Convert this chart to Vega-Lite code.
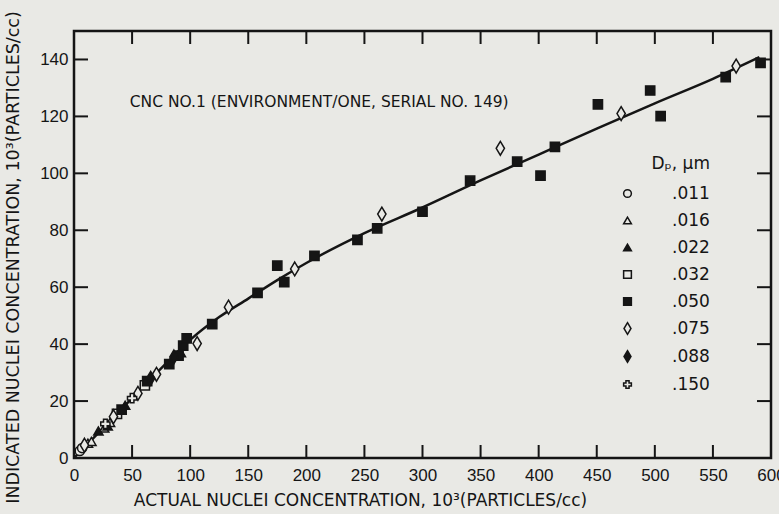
{
  "$schema": "https://vega.github.io/schema/vega-lite/v6.json",
  "width": 697,
  "height": 427,
  "autosize": {"type": "none"},
  "padding": {"left": 74, "top": 31, "right": 8, "bottom": 56},
  "background": "#e9e9e5",
  "config": {
    "view": {"stroke": "#151515", "strokeWidth": 2.5},
    "font": "DejaVu Sans",
    "axis": {"domain": false, "grid": false, "ticks": false, "labelColor": "#151515", "titleColor": "#151515", "labelFont": "Liberation Sans", "titleFont": "DejaVu Sans"}
  },
  "datasets": {
    "points": [
      {"x": 5, "y": 2.5, "dp": ".011"}, {"x": 7, "y": 3.5, "dp": ".011"},
      {"x": 12, "y": 5.2, "dp": ".016"}, {"x": 15, "y": 5.8, "dp": ".016"}, {"x": 26, "y": 10.5, "dp": ".016"}, {"x": 31, "y": 12.5, "dp": ".016"},
      {"x": 21, "y": 9.5, "dp": ".022"}, {"x": 29, "y": 11.2, "dp": ".022"}, {"x": 44, "y": 18.5, "dp": ".022"}, {"x": 92, "y": 37, "dp": ".022"},
      {"x": 37, "y": 15.5, "dp": ".032"}, {"x": 61, "y": 25.5, "dp": ".032"},
      {"x": 41, "y": 17, "dp": ".050"}, {"x": 63, "y": 27, "dp": ".050"}, {"x": 82, "y": 33, "dp": ".050"}, {"x": 90, "y": 36, "dp": ".050"},
      {"x": 94, "y": 39.5, "dp": ".050"}, {"x": 97, "y": 42, "dp": ".050"}, {"x": 119, "y": 47, "dp": ".050"}, {"x": 158, "y": 58, "dp": ".050"},
      {"x": 175, "y": 67.6, "dp": ".050"}, {"x": 181, "y": 61.8, "dp": ".050"}, {"x": 207, "y": 71, "dp": ".050"}, {"x": 244, "y": 76.6, "dp": ".050"},
      {"x": 261, "y": 80.7, "dp": ".050"}, {"x": 300, "y": 86.5, "dp": ".050"}, {"x": 341, "y": 97.4, "dp": ".050"}, {"x": 381.5, "y": 104.1, "dp": ".050"},
      {"x": 401.6, "y": 99.2, "dp": ".050"}, {"x": 414, "y": 109.3, "dp": ".050"}, {"x": 451, "y": 124.2, "dp": ".050"}, {"x": 496, "y": 129.1, "dp": ".050"},
      {"x": 505, "y": 120.1, "dp": ".050"}, {"x": 561, "y": 133.8, "dp": ".050"}, {"x": 591, "y": 138.8, "dp": ".050"},
      {"x": 9, "y": 4.5, "dp": ".075"}, {"x": 34, "y": 14.5, "dp": ".075"}, {"x": 55, "y": 22.7, "dp": ".075"}, {"x": 71, "y": 29.4, "dp": ".075"},
      {"x": 106, "y": 40.2, "dp": ".075"}, {"x": 133, "y": 53, "dp": ".075"}, {"x": 190, "y": 66.4, "dp": ".075"}, {"x": 265, "y": 85.7, "dp": ".075"},
      {"x": 367, "y": 108.8, "dp": ".075"}, {"x": 471, "y": 121, "dp": ".075"}, {"x": 570, "y": 137.7, "dp": ".075"},
      {"x": 66, "y": 28, "dp": ".088"}, {"x": 86, "y": 35.5, "dp": ".088"},
      {"x": 27, "y": 12, "dp": ".150"}, {"x": 50, "y": 21, "dp": ".150"}
    ],
    "curve": [
      {"x": 0, "y": 0}, {"x": 25, "y": 10.5}, {"x": 50, "y": 21}, {"x": 75, "y": 31.5}, {"x": 100, "y": 41.5},
      {"x": 125, "y": 49.5}, {"x": 150, "y": 56}, {"x": 175, "y": 62.5}, {"x": 200, "y": 68.5}, {"x": 250, "y": 79},
      {"x": 300, "y": 88}, {"x": 350, "y": 97.5}, {"x": 400, "y": 106.6}, {"x": 450, "y": 115.7}, {"x": 500, "y": 124.6},
      {"x": 550, "y": 133.2}, {"x": 590, "y": 140.8}
    ],
    "xticks": [{"v": 50}, {"v": 100}, {"v": 150}, {"v": 200}, {"v": 250}, {"v": 300}, {"v": 350}, {"v": 400}, {"v": 450}, {"v": 500}, {"v": 550}],
    "yticks": [{"v": 20}, {"v": 40}, {"v": 60}, {"v": 80}, {"v": 100}, {"v": 120}, {"v": 140}]
  },
  "layer": [
    {
      "data": {"name": "curve"},
      "mark": {"type": "line", "color": "#151515", "strokeWidth": 2.5, "interpolate": "monotone"},
      "encoding": {
        "x": {"field": "x", "type": "quantitative", "scale": {"domain": [0, 600], "nice": false},
          "axis": {"orient": "bottom", "values": [0,50,100,150,200,250,300,350,400,450,500,550,600], "labelPadding": 9, "labelFontSize": 17, "labelFlush": false,
            "title": "ACTUAL  NUCLEI  CONCENTRATION,  10³(PARTICLES/cc)", "titleFontSize": 17, "titleFontWeight": "normal", "titleX": 286, "titleY": 42, "titleBaseline": "middle", "titleAlign": "center"}},
        "y": {"field": "y", "type": "quantitative", "scale": {"domain": [0, 150], "nice": false},
          "axis": {"orient": "left", "values": [0,20,40,60,80,100,120,140], "labelPadding": 6, "labelFontSize": 17,
            "title": "INDICATED  NUCLEI  CONCENTRATION,  10³(PARTICLES/cc)", "titleFontSize": 17.5, "titleFontWeight": "normal", "titleX": -61, "titleY": 226, "titleAngle": -90, "titleBaseline": "middle", "titleAlign": "center"}}
      }
    },
    {
      "data": {"name": "yticks"},
      "mark": {"type": "tick", "orient": "horizontal", "size": 28, "thickness": 2, "clip": true, "color": "#151515", "opacity": 1},
      "encoding": {
        "y": {"field": "v", "type": "quantitative", "axis": null},
        "x": {"datum": 0, "type": "quantitative", "axis": null}
      }
    },
    {
      "data": {"name": "yticks"},
      "mark": {"type": "tick", "orient": "horizontal", "size": 28, "thickness": 2, "clip": true, "color": "#151515", "opacity": 1},
      "encoding": {
        "y": {"field": "v", "type": "quantitative", "axis": null},
        "x": {"datum": 600, "type": "quantitative", "axis": null}
      }
    },
    {
      "data": {"name": "xticks"},
      "mark": {"type": "tick", "orient": "vertical", "size": 26, "thickness": 2, "clip": true, "color": "#151515", "opacity": 1},
      "encoding": {
        "x": {"field": "v", "type": "quantitative", "axis": null},
        "y": {"datum": 0, "type": "quantitative", "axis": null}
      }
    },
    {
      "data": {"name": "xticks"},
      "mark": {"type": "tick", "orient": "vertical", "size": 26, "thickness": 2, "clip": true, "color": "#151515", "opacity": 1},
      "encoding": {
        "x": {"field": "v", "type": "quantitative", "axis": null},
        "y": {"datum": 150, "type": "quantitative", "axis": null}
      }
    },
    {
      "data": {"name": "points"},
      "mark": {"type": "point", "filled": false, "strokeWidth": 1.5, "size": 85, "opacity": 1},
      "encoding": {
        "x": {"field": "x", "type": "quantitative", "axis": null},
        "y": {"field": "y", "type": "quantitative", "axis": null},
        "shape": {"field": "dp", "type": "nominal",
          "scale": {"domain": [".011", ".016", ".022", ".032", ".050", ".075", ".088", ".150"],
            "range": ["circle", "triangle-up", "triangle-up", "square", "square", "M0,-1.5L0.9,0L0,1.5L-0.9,0Z", "M0,-1.5L0.9,0L0,1.5L-0.9,0Z", "cross"]},
          "legend": {"orient": "none", "legendX": 545, "legendY": 125, "title": "Dₚ, μm", "titleFontSize": 17, "titleFontWeight": "normal", "titleColor": "#151515", "titlePadding": 12, "titleAnchor": "end",
            "labelFontSize": 17, "labelColor": "#151515", "labelOffset": 36, "rowPadding": 9, "symbolSize": 60, "symbolStrokeWidth": 1.5}},
        "stroke": {"field": "dp", "type": "nominal",
          "scale": {"domain": [".011", ".016", ".022", ".032", ".050", ".075", ".088", ".150"],
            "range": ["#151515", "#151515", "#151515", "#151515", "#151515", "#151515", "#151515", "#151515"]},
          "legend": {"orient": "none", "legendX": 545, "legendY": 125, "title": "Dₚ, μm", "titleFontSize": 17, "titleFontWeight": "normal", "titleColor": "#151515", "titlePadding": 12, "titleAnchor": "end",
            "labelFontSize": 17, "labelColor": "#151515", "labelOffset": 36, "rowPadding": 9, "symbolSize": 60, "symbolStrokeWidth": 1.5}},
        "fill": {"field": "dp", "type": "nominal",
          "scale": {"domain": [".011", ".016", ".022", ".032", ".050", ".075", ".088", ".150"],
            "range": ["#e9e9e5", "#e9e9e5", "#151515", "#e9e9e5", "#151515", "#e9e9e5", "#151515", "#e9e9e5"]},
          "legend": {"orient": "none", "legendX": 545, "legendY": 125, "title": "Dₚ, μm", "titleFontSize": 17, "titleFontWeight": "normal", "titleColor": "#151515", "titlePadding": 12, "titleAnchor": "end",
            "labelFontSize": 17, "labelColor": "#151515", "labelOffset": 36, "rowPadding": 9, "symbolSize": 60, "symbolStrokeWidth": 1.5}}
      }
    },
    {
      "data": {"values": [{"note": "CNC NO.1 (ENVIRONMENT/ONE, SERIAL NO. 149)"}]},
      "mark": {"type": "text", "align": "left", "baseline": "middle", "fontSize": 15.5, "color": "#151515", "font": "DejaVu Sans"},
      "encoding": {
        "x": {"datum": 48, "type": "quantitative", "axis": null},
        "y": {"datum": 125, "type": "quantitative", "axis": null},
        "text": {"field": "note", "type": "nominal"}
      }
    }
  ],
  "resolve": {"axis": {"x": "independent", "y": "independent"}}
}
